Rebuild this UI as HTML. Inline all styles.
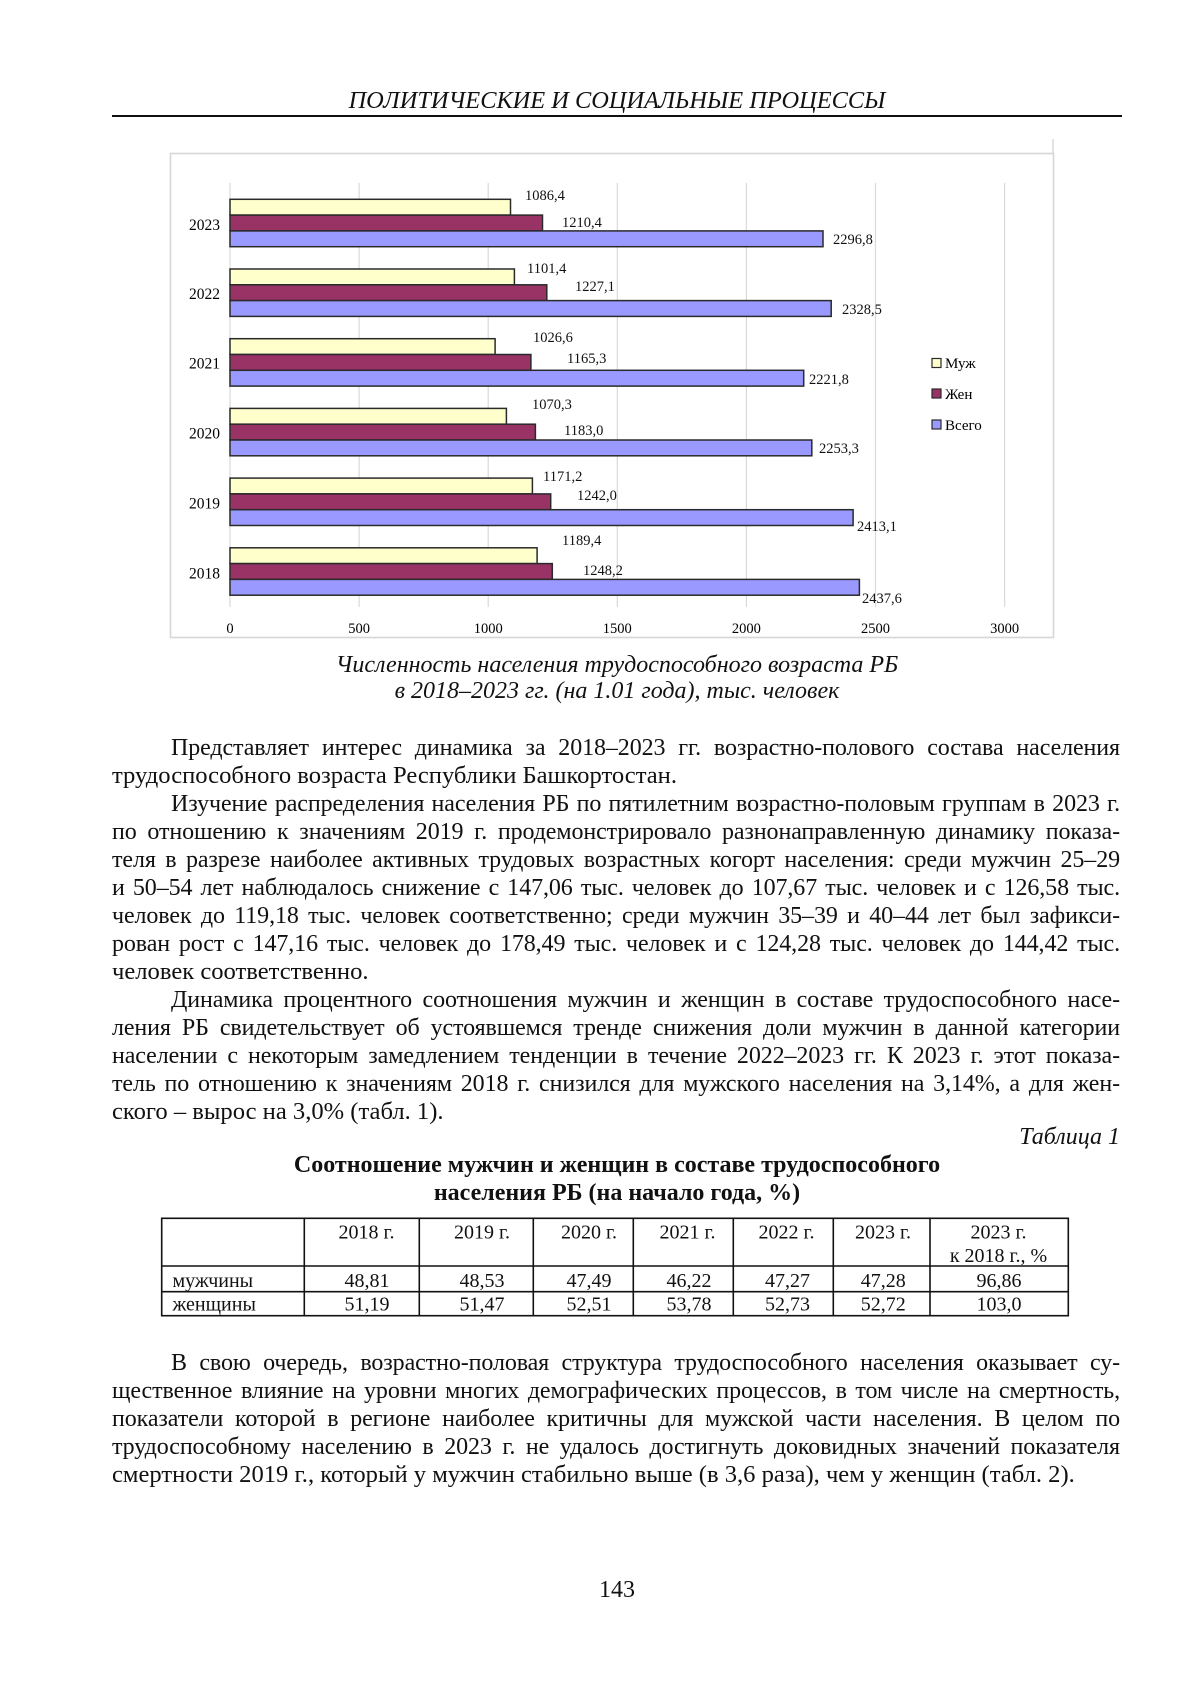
<!DOCTYPE html>
<html><head><meta charset="utf-8">
<style>
html,body{margin:0;padding:0;background:#fff;}
body{width:1200px;height:1698px;position:relative;overflow:hidden;font-family:"Liberation Serif","Noto Serif CJK SC",serif;color:#111;}
.ln{position:absolute;left:112px;width:1008px;height:28px;line-height:28px;font-size:24px;text-align:justify;text-align-last:justify;overflow:hidden;letter-spacing:-0.1px;}
.ind{left:171px;width:949px;}
.last{text-align:left;text-align-last:left;font-size:24.6px;letter-spacing:0;}
.ctr{position:absolute;left:112px;width:1010px;text-align:center;height:28px;line-height:28px;font-size:24px;white-space:nowrap;}
.it{font-style:italic;}
.b{font-weight:bold;}
svg text{font-family:"Liberation Serif",serif;}
</style></head><body>

<div class="ctr it" style="top:87px;font-size:24.4px;">ПОЛИТИЧЕСКИЕ И СОЦИАЛЬНЫЕ ПРОЦЕССЫ</div>
<div style="position:absolute;left:112px;top:115px;width:1010px;height:1.6px;background:#111;"></div>

<svg style="position:absolute;left:0;top:0" width="1200" height="700" viewBox="0 0 1200 700">
  <line x1="1053" y1="139" x2="1053" y2="153" stroke="#d0d0d0" stroke-width="1.2"/>
  <rect x="170.5" y="153.5" width="883" height="484" fill="#fff" stroke="#d6d6d6" stroke-width="1.6"/>
  <g stroke="#d9d9d9" stroke-width="1.2">
    <line x1="230" y1="183" x2="230" y2="607"/>
    <line x1="359.1" y1="183" x2="359.1" y2="607"/>
    <line x1="488.2" y1="183" x2="488.2" y2="607"/>
    <line x1="617.3" y1="183" x2="617.3" y2="607"/>
    <line x1="746.4" y1="183" x2="746.4" y2="607"/>
    <line x1="875.5" y1="183" x2="875.5" y2="607"/>
    <line x1="1004.6" y1="183" x2="1004.6" y2="607"/>
  </g>
  <g stroke="#2a2a2a" stroke-width="1.5">
    <rect x="230" y="199.3" width="280.5" height="15.8" fill="#FFFFCC"/>
    <rect x="230" y="215.1" width="312.5" height="15.8" fill="#993366"/>
    <rect x="230" y="230.9" width="593.0" height="15.8" fill="#9999FF"/>
    <rect x="230" y="269.0" width="284.4" height="15.8" fill="#FFFFCC"/>
    <rect x="230" y="284.8" width="316.8" height="15.8" fill="#993366"/>
    <rect x="230" y="300.6" width="601.2" height="15.8" fill="#9999FF"/>
    <rect x="230" y="338.7" width="265.1" height="15.8" fill="#FFFFCC"/>
    <rect x="230" y="354.5" width="300.9" height="15.8" fill="#993366"/>
    <rect x="230" y="370.3" width="573.7" height="15.8" fill="#9999FF"/>
    <rect x="230" y="408.4" width="276.4" height="15.8" fill="#FFFFCC"/>
    <rect x="230" y="424.2" width="305.4" height="15.8" fill="#993366"/>
    <rect x="230" y="440.0" width="581.8" height="15.8" fill="#9999FF"/>
    <rect x="230" y="478.1" width="302.4" height="15.8" fill="#FFFFCC"/>
    <rect x="230" y="493.9" width="320.7" height="15.8" fill="#993366"/>
    <rect x="230" y="509.7" width="623.1" height="15.8" fill="#9999FF"/>
    <rect x="230" y="547.8" width="307.1" height="15.8" fill="#FFFFCC"/>
    <rect x="230" y="563.6" width="322.3" height="15.8" fill="#993366"/>
    <rect x="230" y="579.4" width="629.4" height="15.8" fill="#9999FF"/>
  </g>
  <g font-size="15.5" fill="#000" text-anchor="end">
    <text x="220" y="230">2023</text>
    <text x="220" y="299">2022</text>
    <text x="220" y="368.5">2021</text>
    <text x="220" y="438.5">2020</text>
    <text x="220" y="508.5">2019</text>
    <text x="220" y="578.5">2018</text>
  </g>
  <g font-size="14.5" fill="#111">
    <text x="525" y="200">1086,4</text>
    <text x="562" y="227">1210,4</text>
    <text x="833" y="244">2296,8</text>
    <text x="527" y="273">1101,4</text>
    <text x="575" y="291">1227,1</text>
    <text x="842" y="314">2328,5</text>
    <text x="533" y="342">1026,6</text>
    <text x="567" y="363">1165,3</text>
    <text x="809" y="384">2221,8</text>
    <text x="532" y="409">1070,3</text>
    <text x="564" y="435">1183,0</text>
    <text x="819" y="453">2253,3</text>
    <text x="543" y="481">1171,2</text>
    <text x="577" y="500">1242,0</text>
    <text x="857" y="531">2413,1</text>
    <text x="562" y="545">1189,4</text>
    <text x="583" y="575">1248,2</text>
    <text x="862" y="603">2437,6</text>
  </g>
  <g font-size="14.5" fill="#000" text-anchor="middle">
    <text x="230" y="633">0</text>
    <text x="359.1" y="633">500</text>
    <text x="488.2" y="633">1000</text>
    <text x="617.3" y="633">1500</text>
    <text x="746.4" y="633">2000</text>
    <text x="875.5" y="633">2500</text>
    <text x="1004.6" y="633">3000</text>
  </g>
  <g stroke="#2a2a2a" stroke-width="1.2">
    <rect x="932" y="358.5" width="9" height="9" fill="#FFFFCC"/>
    <rect x="932" y="389" width="9" height="9" fill="#993366"/>
    <rect x="932" y="420" width="9" height="9" fill="#9999FF"/>
  </g>
  <g font-size="15" fill="#000">
    <text x="945" y="368">Муж</text>
    <text x="945" y="399">Жен</text>
    <text x="945" y="430">Всего</text>
  </g>
</svg>

<div class="ctr it" style="top:651px;">Численность населения трудоспособного возраста РБ</div>
<div class="ctr it" style="top:677px;">в 2018–2023 гг. (на 1.01 года), тыс. человек</div>

<div class="ln ind" style="top:734px;">Представляет интерес динамика за 2018–2023 гг. возрастно-полового состава населения</div>
<div class="ln last" style="top:762px;">трудоспособного возраста Республики Башкортостан.</div>
<div class="ln ind" style="top:790px;">Изучение распределения населения РБ по пятилетним возрастно-половым группам в 2023 г.</div>
<div class="ln" style="top:818px;">по отношению к значениям 2019 г. продемонстрировало разнонаправленную динамику показа-</div>
<div class="ln" style="top:846px;">теля в разрезе наиболее активных трудовых возрастных когорт населения: среди мужчин 25–29</div>
<div class="ln" style="top:874px;">и 50–54 лет наблюдалось снижение с 147,06 тыс. человек до 107,67 тыс. человек и с 126,58 тыс.</div>
<div class="ln" style="top:902px;">человек до 119,18 тыс. человек соответственно; среди мужчин 35–39 и 40–44 лет был зафикси-</div>
<div class="ln" style="top:930px;">рован рост с 147,16 тыс. человек до 178,49 тыс. человек и с 124,28 тыс. человек до 144,42 тыс.</div>
<div class="ln last" style="top:958px;">человек соответственно.</div>
<div class="ln ind" style="top:986px;">Динамика процентного соотношения мужчин и женщин в составе трудоспособного насе-</div>
<div class="ln" style="top:1014px;">ления РБ свидетельствует об устоявшемся тренде снижения доли мужчин в данной категории</div>
<div class="ln" style="top:1042px;">населении с некоторым замедлением тенденции в течение 2022–2023 гг. К 2023 г. этот показа-</div>
<div class="ln" style="top:1070px;">тель по отношению к значениям 2018 г. снизился для мужского населения на 3,14%, а для жен-</div>
<div class="ln last" style="top:1098px;">ского – вырос на 3,0% (табл. 1).</div>

<div class="it" style="position:absolute;right:80px;top:1123px;height:28px;line-height:28px;font-size:24px;">Таблица 1</div>
<div class="ctr b" style="top:1151px;">Соотношение мужчин и женщин в составе трудоспособного</div>
<div class="ctr b" style="top:1179px;">населения РБ (на начало года, %)</div>

<svg style="position:absolute;left:0;top:1200px" width="1200" height="130" viewBox="0 1200 1200 130">
  <g stroke="#111" stroke-width="1.6" fill="none">
    <rect x="161.7" y="1218.3" width="906.6" height="97.4"/>
    <line x1="161.7" y1="1266" x2="1068.3" y2="1266"/>
    <line x1="161.7" y1="1291.7" x2="1068.3" y2="1291.7"/>
    <line x1="304.3" y1="1218.3" x2="304.3" y2="1315.7"/>
    <line x1="419.3" y1="1218.3" x2="419.3" y2="1315.7"/>
    <line x1="533.3" y1="1218.3" x2="533.3" y2="1315.7"/>
    <line x1="633.3" y1="1218.3" x2="633.3" y2="1315.7"/>
    <line x1="733.3" y1="1218.3" x2="733.3" y2="1315.7"/>
    <line x1="833.3" y1="1218.3" x2="833.3" y2="1315.7"/>
    <line x1="930" y1="1218.3" x2="930" y2="1315.7"/>
  </g>
  <g font-size="20" fill="#111" text-anchor="middle">
    <text x="366.5" y="1238.5">2018 г.</text>
    <text x="482" y="1238.5">2019 г.</text>
    <text x="589" y="1238.5">2020 г.</text>
    <text x="687.5" y="1238.5">2021 г.</text>
    <text x="786.5" y="1238.5">2022 г.</text>
    <text x="883" y="1238.5">2023 г.</text>
    <text x="998.5" y="1238.5">2023 г.</text>
    <text x="998.5" y="1261.8">к 2018 г., %</text>
    <text x="367" y="1287">48,81</text>
    <text x="482" y="1287">48,53</text>
    <text x="589" y="1287">47,49</text>
    <text x="689" y="1287">46,22</text>
    <text x="787.5" y="1287">47,27</text>
    <text x="883.3" y="1287">47,28</text>
    <text x="999" y="1287">96,86</text>
    <text x="367" y="1310.5">51,19</text>
    <text x="482" y="1310.5">51,47</text>
    <text x="589" y="1310.5">52,51</text>
    <text x="689" y="1310.5">53,78</text>
    <text x="787.5" y="1310.5">52,73</text>
    <text x="883.3" y="1310.5">52,72</text>
    <text x="999" y="1310.5">103,0</text>
  </g>
  <g font-size="20" fill="#111">
    <text x="172.5" y="1287">мужчины</text>
    <text x="172.5" y="1310.5">женщины</text>
  </g>
</svg>

<div class="ln ind" style="top:1349px;">В свою очередь, возрастно-половая структура трудоспособного населения оказывает су-</div>
<div class="ln" style="top:1377px;">щественное влияние на уровни многих демографических процессов, в том числе на смертность,</div>
<div class="ln" style="top:1405px;">показатели которой в регионе наиболее критичны для мужской части населения. В целом по</div>
<div class="ln" style="top:1433px;">трудоспособному населению в 2023 г. не удалось достигнуть доковидных значений показателя</div>
<div class="ln last" style="top:1461px;">смертности 2019 г., который у мужчин стабильно выше (в 3,6 раза), чем у женщин (табл. 2).</div>

<div class="ctr" style="top:1576px;">143</div>

</body></html>
